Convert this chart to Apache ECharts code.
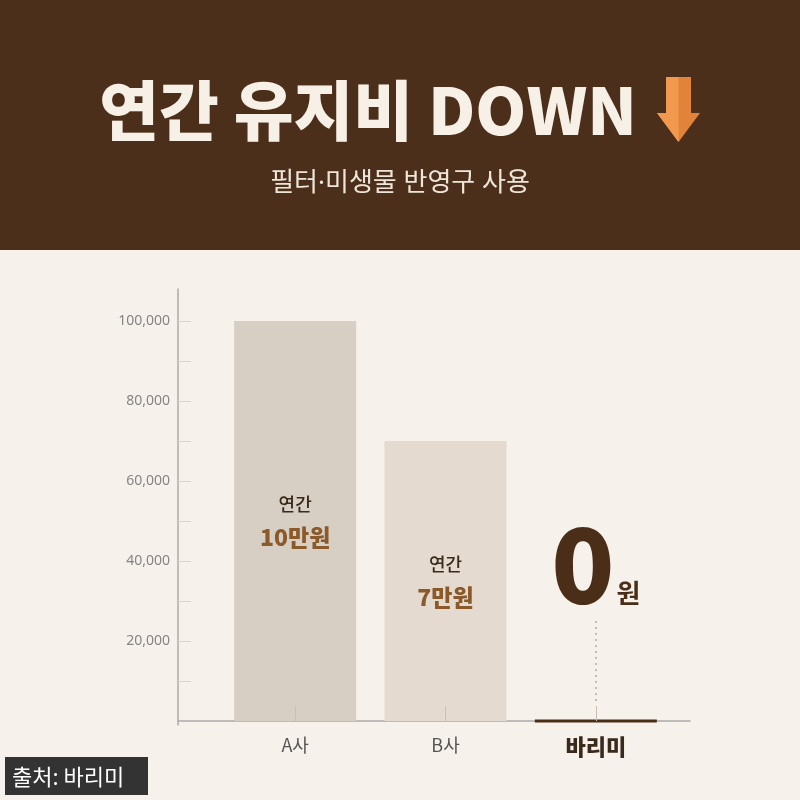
<!DOCTYPE html>
<html>
<head>
<meta charset="utf-8">
<script src="https://cdn.jsdelivr.net/npm/echarts@6/dist/echarts.min.js"></script>
<style>html,body{margin:0;padding:0;background:#f6f1eb;}#c{width:800px;height:800px;}</style>
</head>
<body>
<div id="c"></div>
<script>
const categories = ['A사', 'B사', '바리미'];
const values = [100000, 70000, 0];
const yTickValues = [10000, 20000, 30000, 40000, 50000, 60000, 70000, 80000, 90000, 100000];
const yLabelValues = [20000, 40000, 60000, 80000, 100000];
const titleText = '연간 유지비 DOWN';
const subtitleText = '필터·미생물 반영구 사용';
const sourceText = '출처: 바리미';

const FONT = "'Noto Sans CJK KR', 'Noto Sans', sans-serif";
const LATIN_FIRST = "'Noto Sans', 'Noto Sans CJK KR', sans-serif";
const barColors = ['#d7cec4', '#e4dad0', '#4a2e17'];

const chart = echarts.init(document.getElementById('c'), null, {renderer: 'canvas'});

const seriesData = values.map((v, i) => {
  const item = {value: v, itemStyle: {color: barColors[i]}};
  if (v === 0) {
    item.itemStyle = {color: barColors[i], borderColor: barColors[i], borderWidth: 3};
    item.label = {
      show: true, position: 'top', distance: 100,
      formatter: () => '{big|' + v + '}{won|원}',
      rich: {
        big: {fontSize: 104, fontWeight: 900, color: '#4a2e17', lineHeight: 110, fontFamily: FONT},
        won: {fontSize: 26, fontWeight: 'bold', color: '#4a2e17', lineHeight: 26, verticalAlign: 'bottom', padding: [0, 0, 13, 2], fontFamily: FONT}
      }
    };
  } else {
    item.label = {
      show: true, position: 'inside',
      formatter: (p) => '{a|연간}\n{b|' + (p.value / 10000) + '만원}',
      rich: {
        a: {fontSize: 18, fontWeight: 500, color: '#3a2a1c', lineHeight: 33, fontFamily: FONT},
        b: {fontSize: 23, fontWeight: 900, color: '#8b5a2b', lineHeight: 33, fontFamily: FONT}
      }
    };
  }
  return item;
});

const option = {
  backgroundColor: '#f6f1eb',
  animation: false,
  textStyle: {fontFamily: FONT},
  grid: [
    {left: 220, right: 129, top: 289, bottom: 75},
    {left: 178, right: 110, top: 289, bottom: 75}
  ],
  xAxis: [
    {
      type: 'category', gridIndex: 0, data: categories, z: 10,
      axisLine: {show: false},
      axisTick: {show: true, inside: true, alignWithLabel: true, length: 15, lineStyle: {color: '#c8bfb5', width: 1}},
      axisLabel: {
        margin: 11, fontSize: 18, color: '#555', fontFamily: FONT,
        formatter: (v) => v === '바리미' ? '{hl|' + v + '}' : v,
        rich: {hl: {fontSize: 22, fontWeight: 900, color: '#3a2a1c', fontFamily: FONT}}
      }
    },
    {
      type: 'value', gridIndex: 1, min: 0, max: 1,
      axisLine: {show: true, lineStyle: {color: '#aaa', width: 1.5}},
      axisTick: {show: false}, axisLabel: {show: false}, splitLine: {show: false}
    }
  ],
  yAxis: [
    {type: 'value', gridIndex: 0, min: -1000, max: 108000, show: false, splitLine: {show: false}},
    {
      type: 'value', gridIndex: 1, min: -1000, max: 108000,
      axisLine: {show: true, lineStyle: {color: '#aaa', width: 1.5}},
      axisTick: {show: true, inside: true, length: 13, customValues: yTickValues, lineStyle: {color: '#d8d2cb', width: 1}},
      axisLabel: {
        customValues: yLabelValues, fontSize: 14, color: '#858585', margin: 8, fontFamily: LATIN_FIRST,
        formatter: (v) => v.toLocaleString('en-US')
      },
      splitLine: {show: false}
    }
  ],
  series: [{
    type: 'bar', xAxisIndex: 0, yAxisIndex: 0,
    barWidth: 122,
    data: seriesData,
    markLine: {
      silent: true, symbol: 'none',
      label: {show: false},
      lineStyle: {type: [2, 4], color: '#b5aca2', width: 1.5},
      data: [[{coord: ['바리미', 5000]}, {coord: ['바리미', 26000]}]]
    }
  }],
  graphic: [
    {type: 'rect', left: 0, top: 0, z: 0, shape: {width: 800, height: 250}, style: {fill: '#4b2f1a'}},
    {type: 'text', x: 368, y: 110, z: 1, style: {text: titleText, fill: '#f7f0e6', font: '900 65px ' + FONT, textAlign: 'center', textVerticalAlign: 'middle'}},
    {type: 'text', x: 400, y: 184, z: 1, style: {text: subtitleText, fill: '#eee5da', font: '400 26px ' + LATIN_FIRST, textAlign: 'center', textVerticalAlign: 'middle'}},
    {type: 'polygon', z: 1, shape: {points: [[666,77],[691,77],[691,113],[700,113],[678.5,142],[657,113],[666,113]]}, style: {fill: '#e2833a'}},
    {type: 'polygon', z: 2, shape: {points: [[666,77],[678.5,77],[678.5,142],[657,113],[666,113]]}, style: {fill: '#f0994f'}},
    {type: 'rect', z: 1, shape: {x: 5, y: 757, width: 143, height: 38}, style: {fill: '#333333'}},
    {type: 'text', x: 12, y: 777, z: 2, style: {text: sourceText, fill: '#ffffff', font: '400 22px ' + FONT, textVerticalAlign: 'middle'}}
  ]
};
chart.setOption(option);
</script>
</body>
</html>
